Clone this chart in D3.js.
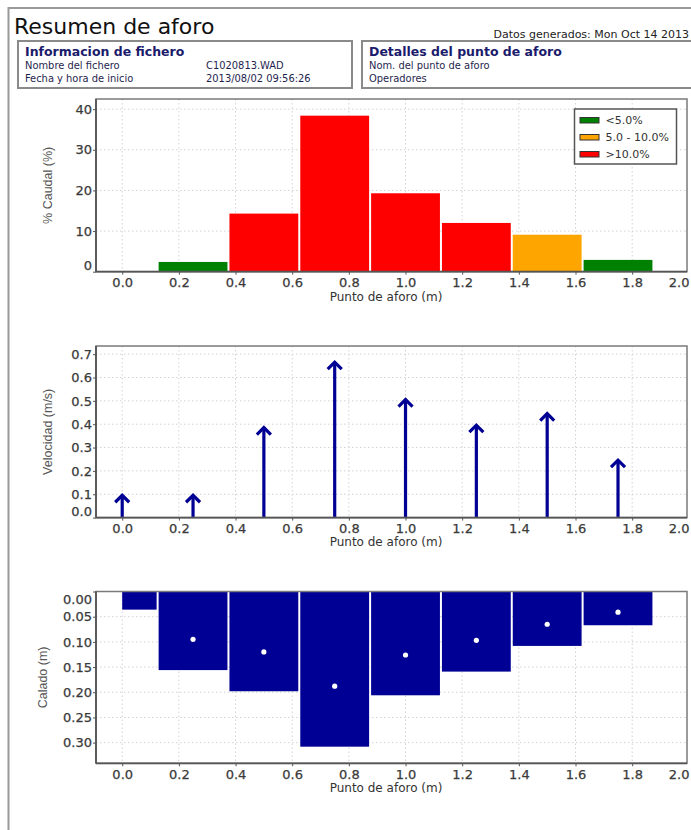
<!DOCTYPE html>
<html>
<head>
<meta charset="utf-8">
<script src="https://cdn.jsdelivr.net/npm/d3@7"></script>
<style>
  html, body { margin: 0; padding: 0; background: #fff; overflow: hidden; }
  svg { display: block; }
  .tick text { font-family: "DejaVu Sans", Verdana, sans-serif; font-size: 13px; fill: #3a3a3a; stroke: #3a3a3a; stroke-width: 0.25px; }
</style>
</head>
<body>
<svg id="page" width="691" height="830"></svg>
<script>
// Gauging stations across the section (m) and the measurements at each
const stations      = [0.0, 0.25, 0.5, 0.75, 1.0, 1.25, 1.5, 1.75];
const flowPct       = [0.0, 2.4, 14.3, 38.4, 19.3, 12.0, 9.1, 2.9];
const velocity      = [0.10, 0.10, 0.39, 0.67, 0.51, 0.40, 0.45, 0.25];
const depth         = [0.036, 0.156, 0.198, 0.308, 0.206, 0.159, 0.108, 0.067];
const measureDepth  = [null, 0.095, 0.120, 0.188, 0.126, 0.097, 0.065, 0.041];
const panelWidth    = 0.25;

// Axis ticks
const xTicks     = [0.0, 0.2, 0.4, 0.6, 0.8, 1.0, 1.2, 1.4, 1.6, 1.8, 2.0];
const flowTicks  = [0, 10, 20, 30, 40];
const velTicks   = [0.0, 0.1, 0.2, 0.3, 0.4, 0.5, 0.6, 0.7];
const depthTicks = [0.00, 0.05, 0.10, 0.15, 0.20, 0.25, 0.30];

// Flow share classes
const legendLabels = ["<5.0%", "5.0 - 10.0%", ">10.0%"];
const legendColors = ["#008000", "#ffa500", "#ff0000"];
const classBreaks  = [5, 10];

// Header texts
const fileInfo  = [["Nombre del fichero", "C1020813.WAD"], ["Fecha y hora de inicio", "2013/08/02 09:56:26"]];
const pointInfo = ["Nom. del punto de aforo", "Operadores"];

const navy = "#000094";
const svg = d3.select("#page");
const sansC = "'DejaVu Sans Condensed', 'DejaVu Sans', sans-serif";
const sans = "'DejaVu Sans', Verdana, sans-serif";

// ---- page frame and header ----
svg.append("rect").attr("x", 8.5).attr("y", 8).attr("width", 700).attr("height", 840)
  .attr("fill", "none").attr("stroke", "#9a9a9a").attr("stroke-width", 2);

svg.append("text").attr("x", 14).attr("y", 34).text("Resumen de aforo")
  .attr("font-family", sans).attr("font-size", 22).attr("fill", "#111");
svg.append("text").attr("x", 689).attr("y", 38).attr("text-anchor", "end").text("Datos generados: Mon Oct 14 2013")
  .attr("font-family", sans).attr("font-size", 11).attr("fill", "#222");

const boxes = [
  { x: 18, w: 334, title: "Informacion de fichero", rows: fileInfo },
  { x: 362, w: 340, title: "Detalles del punto de aforo", rows: pointInfo.map(d => [d, ""]) }
];
boxes.forEach(b => {
  svg.append("rect").attr("x", b.x).attr("y", 41).attr("width", b.w).attr("height", 47)
    .attr("fill", "none").attr("stroke", "#8a8a8a").attr("stroke-width", 2);
  svg.append("text").attr("x", b.x + 7).attr("y", 56).text(b.title)
    .attr("font-family", sans).attr("font-weight", "bold").attr("font-size", 12.5).attr("fill", "#1b1b6b");
  b.rows.forEach((r, i) => {
    svg.append("text").attr("x", b.x + 7).attr("y", 69 + i * 13).text(r[0])
      .attr("font-family", sansC).attr("font-size", 11).attr("fill", "#1f1f4f");
    if (r[1]) svg.append("text").attr("x", b.x + 188).attr("y", 69 + i * 13).text(r[1])
      .attr("font-family", sansC).attr("font-size", 11).attr("fill", "#1f1f4f");
  });
});

// ---- shared horizontal scale ----
const plotLeft = 96, plotRight = 687;
const x = d3.scaleLinear().domain([-0.0925, 1.9935]).range([plotLeft, plotRight]);

// dotted grid behind the marks
function grid(top, bottom, y, gridY) {
  const g = svg.append("g").attr("stroke", "#d2d2d2").attr("stroke-dasharray", "1.5,2.5");
  xTicks.filter(v => x(v) < plotRight - 2).forEach(v => {
    g.append("line").attr("x1", x(v)).attr("x2", x(v)).attr("y1", top).attr("y2", bottom);
  });
  gridY.forEach(v => {
    g.append("line").attr("x1", plotLeft).attr("x2", plotRight).attr("y1", y(v)).attr("y2", y(v));
  });
}

function axes(top, bottom, y, yTicks, yFmt, yTitle, yTitleX, xTitleDy) {
  const g = svg.append("g");
  // frame
  g.append("rect").attr("x", plotLeft).attr("y", top).attr("width", plotRight - plotLeft).attr("height", bottom - top)
    .attr("fill", "none").attr("stroke", "#7a7a7a").attr("stroke-width", 1.5);
  g.append("line").attr("x1", plotLeft).attr("x2", plotLeft).attr("y1", top).attr("y2", bottom)
    .attr("stroke", "#555").attr("stroke-width", 1.8);
  g.append("line").attr("x1", plotLeft).attr("x2", plotRight).attr("y1", bottom).attr("y2", bottom)
    .attr("stroke", "#555").attr("stroke-width", 1.8);

  // x axis
  const xa = g.append("g").attr("transform", `translate(0,${bottom})`)
    .call(d3.axisBottom(x).tickValues(xTicks).tickFormat(d3.format(".1f")).tickSize(3).tickPadding(3));
  xa.select(".domain").remove();
  xa.selectAll(".tick line").attr("stroke", "#555");
  xa.selectAll(".tick").filter(d => x(d) > plotRight).each(function () {
    d3.select(this).select("line").remove();
    d3.select(this).select("text").attr("text-anchor", "end").attr("dx", plotRight + 2 - x(2.0));
  });

  // y axis
  const ya = g.append("g").attr("transform", `translate(${plotLeft},0)`)
    .call(d3.axisLeft(y).tickValues(yTicks).tickFormat(yFmt).tickSize(3).tickPadding(1));
  ya.select(".domain").remove();
  ya.selectAll(".tick line").attr("stroke", "#555");
  // keep the label that sits on the frame edge inside the plot height
  ya.selectAll(".tick").each(function (d) {
    const p = y(d);
    const t = d3.select(this).select("text");
    if (Math.abs(p - bottom) < 1) t.attr("dy", "-0.2em");
    else if (Math.abs(p - top) < 1) t.attr("dy", "0.95em");
  });

  g.append("text").attr("x", 386).attr("y", bottom + xTitleDy)
    .attr("text-anchor", "middle").text("Punto de aforo (m)")
    .attr("font-family", sans).attr("font-size", 12).attr("fill", "#333");
  g.append("text").attr("transform", `translate(${yTitleX},${(top + bottom) / 2}) rotate(-90)`)
    .attr("text-anchor", "middle").text(yTitle)
    .attr("font-family", "'Liberation Sans', Arial, sans-serif").attr("font-size", 12.5).attr("fill", "#555");
}

// panel extents around each station
const panelLo = d => Math.max(0, d - panelWidth / 2);
const panelHi = d => d + panelWidth / 2;

// ---- 1. flow share per panel ----
{
  const top = 99, bottom = 271.7;
  const y = d3.scaleLinear().domain([0, 42.5]).range([bottom, top]);
  const color = d3.scaleThreshold().domain(classBreaks).range(legendColors);
  grid(top, bottom, y, flowTicks.slice(1));
  svg.append("g").selectAll("rect").data(stations.map((s, i) => ({ s, v: flowPct[i] })).filter(d => d.v > 0))
    .join("rect")
    .attr("x", d => x(panelLo(d.s)) + 1)
    .attr("width", d => x(panelHi(d.s)) - x(panelLo(d.s)) - 2)
    .attr("y", d => y(d.v)).attr("height", d => y(0) - y(d.v))
    .attr("fill", d => color(d.v));
  axes(top, bottom, y, flowTicks, d3.format("d"), "% Caudal (%)", 52, 29);

  // legend
  const lg = svg.append("g").attr("transform", "translate(574.5,109)");
  lg.append("rect").attr("width", 102).attr("height", 55).attr("fill", "#fff")
    .attr("stroke", "#555").attr("stroke-width", 1.5);
  legendLabels.forEach((l, i) => {
    lg.append("rect").attr("x", 5.5).attr("y", 8.5 + i * 17).attr("width", 19).attr("height", 5.5)
      .attr("fill", legendColors[i]).attr("stroke", "#333").attr("stroke-width", 1);
    lg.append("text").attr("x", 31).attr("y", 15 + i * 17).text(l)
      .attr("font-family", sans).attr("font-size", 11).attr("fill", "#333");
  });
}

// ---- 2. velocity arrows ----
{
  const top = 346, bottom = 517.6;
  const y = d3.scaleLinear().domain([0, 0.735]).range([bottom, top]);
  grid(top, bottom, y, velTicks.slice(1));
  const g = svg.append("g").attr("stroke", navy).attr("fill", "none")
    .attr("stroke-width", 3.2).attr("stroke-linecap", "butt").attr("stroke-linejoin", "miter");
  stations.forEach((s, i) => {
    const cx = x(s), tip = y(velocity[i]);
    g.append("line").attr("x1", cx).attr("x2", cx).attr("y1", y(0)).attr("y2", tip + 1);
    g.append("path").attr("d", `M${cx - 7},${tip + 8}L${cx},${tip + 1}L${cx + 7},${tip + 8}`);
  });
  axes(top, bottom, y, velTicks, d3.format(".1f"), "Velocidad (m/s)", 52, 28);
}

// ---- 3. depth profile ----
{
  const top = 591.5, bottom = 763.3;
  const y = d3.scaleLinear().domain([0, 0.341]).range([top, bottom]);
  grid(top, bottom, y, depthTicks.slice(1));
  svg.append("g").selectAll("rect").data(stations.map((s, i) => ({ s, v: depth[i] })))
    .join("rect")
    .attr("x", d => x(panelLo(d.s)) + (d.s === 0 ? 0 : 1))
    .attr("width", d => x(panelHi(d.s)) - x(panelLo(d.s)) - (d.s === 0 ? 1 : 2))
    .attr("y", y(0)).attr("height", d => y(d.v) - y(0))
    .attr("fill", navy);
  svg.append("g").selectAll("circle")
    .data(stations.map((s, i) => ({ s, v: measureDepth[i] })).filter(d => d.v !== null))
    .join("circle")
    .attr("cx", d => x(d.s)).attr("cy", d => y(d.v)).attr("r", 2.6).attr("fill", "#fff");
  axes(top, bottom, y, depthTicks, d3.format(".2f"), "Calado (m)", 47, 29);
}
</script>
</body>
</html>
